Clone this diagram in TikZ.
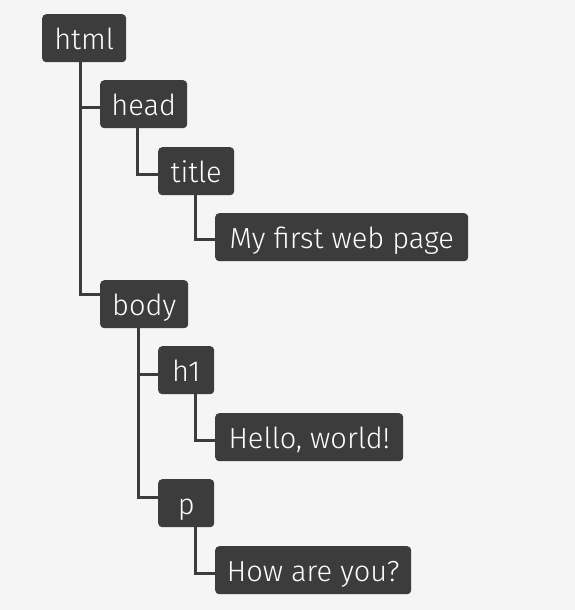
\documentclass[tikz,border=0pt]{standalone}
\usepackage{fontspec}
\setmainfont{Fira Sans}[UprightFont=* Light]
\definecolor{bg}{HTML}{F4F5F4}
\definecolor{boxc}{HTML}{3C3C3C}
\begin{document}
\begin{tikzpicture}[x=1pt,y=-1pt,
  tag/.style={fill=boxc, rounded corners=4pt, text=white, anchor=north west,
    minimum height=48pt, inner xsep=0pt, inner ysep=0pt,
    text height=22pt, text depth=0pt, font=\fontsize{29}{32}\selectfont},
  link/.style={draw=boxc, line width=3pt}]
\fill[bg] (0,0) rectangle (575,610);
\useasboundingbox (0,0) rectangle (575,610);
\node[tag, minimum width=84pt]  (html)  at (42,14)  {html};
\node[tag, minimum width=87pt]  (head)  at (100,80) {head};
\node[tag, minimum width=76pt]  (title) at (158,147) {title};
\node[tag, minimum width=253pt] (mfwp)  at (215,213) {My first web page};
\node[tag, minimum width=88pt]  (body)  at (100,280) {body};
\node[tag, minimum width=56pt]  (h1)    at (158,346) {h1};
\node[tag, minimum width=188pt] (hello) at (215,413) {Hello, world!};
\node[tag, minimum width=56pt]  (p)     at (158,479) {p};
\node[tag, minimum width=196pt] (how)   at (215,546) {How are you?};
\draw[link] ([xshift=38pt]html.south west) |- ([yshift=-3pt]head.west);
\draw[link] ([xshift=38pt]html.south west) |- ([yshift=10pt]body.west);
\draw[link] ([xshift=37pt]head.south west) |- ([yshift=-3pt]title.west);
\draw[link] ([xshift=37pt]title.south west) |- ([yshift=-2pt]mfwp.west);
\draw[link] ([xshift=38pt]body.south west) |- ([yshift=-4pt]h1.west);
\draw[link] ([xshift=38pt]body.south west) |- ([yshift=6pt]p.west);
\draw[link] ([xshift=37pt]h1.south west) |- ([yshift=-3pt]hello.west);
\draw[link] ([xshift=37pt]p.south west) |- ([yshift=-3pt]how.west);
\end{tikzpicture}
\end{document}
